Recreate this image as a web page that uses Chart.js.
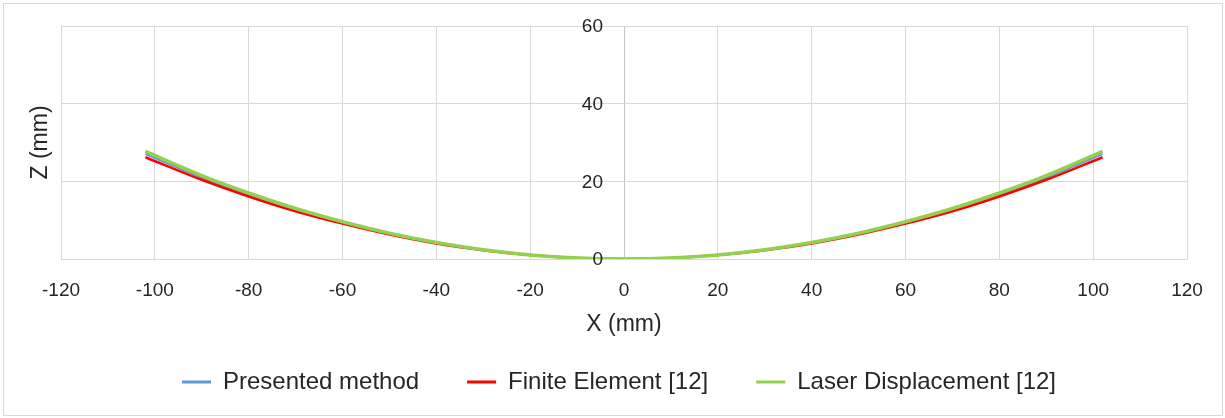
<!DOCTYPE html>
<html>
<head>
<meta charset="utf-8">
<script src="https://cdn.jsdelivr.net/npm/chart.js@4.4.1/dist/chart.umd.min.js"></script>
<style>
  html, body { margin: 0; padding: 0; background: #fff; }
  canvas { display: block; }
</style>
</head>
<body>
<canvas id="Chart" width="1225" height="418"></canvas>
<script>
  // values (mm)
  const xValues = [-102, -90, -80, -70, -60, -50, -40, -30, -20, -10, 0, 10, 20, 30, 40, 50, 60, 70, 80, 90, 102];
  const presented = [27.0, 21.0, 16.6, 12.7, 9.3, 6.5, 4.15, 2.33, 1.04, 0.26, 0, 0.26, 1.04, 2.33, 4.15, 6.5, 9.3, 12.7, 16.6, 21.0, 27.0];
  const finiteElement = [26.2, 20.4, 16.1, 12.3, 9.1, 6.3, 4.0, 2.27, 1.0, 0.25, 0, 0.25, 1.0, 2.27, 4.0, 6.3, 9.1, 12.3, 16.1, 20.4, 26.2];
  const laser = [27.7, 21.5, 17.0, 13.0, 9.6, 6.65, 4.25, 2.4, 1.06, 0.27, 0, 0.27, 1.06, 2.4, 4.25, 6.65, 9.6, 13.0, 17.0, 21.5, 27.7];
  const yTicks = [0, 20, 40, 60];

  const textColor = "#262626";
  const gridColor = "#d9d9d9";
  const fontFamily = "'Liberation Sans', Arial, sans-serif";

  function toPoints(ys) {
    return xValues.map((x, i) => ({ x: x, y: ys[i] }));
  }

  // outer frame of the chart
  const framePlugin = {
    id: "frame",
    beforeDraw(chart) {
      const c = chart.ctx;
      c.save();
      c.strokeStyle = gridColor;
      c.lineWidth = 1;
      c.strokeRect(3.5, 3.5, 1219, 412);
      c.restore();
    },
  };

  // legend centring counts the trailing padding, nudge it back
  const legendShift = {
    id: "legendShift",
    afterLayout(chart) {
      chart.legend.left += 24;
      chart.legend.right += 24;
    },
  };

  // y tick labels sit beside the x = 0 line
  const yLabelsPlugin = {
    id: "yLabels",
    afterDatasetsDraw(chart) {
      const c = chart.ctx;
      const xs = chart.scales.x;
      const ys = chart.scales.y;
      const x0 = xs.getPixelForValue(0);
      c.save();
      c.font = "19px " + fontFamily;
      c.fillStyle = textColor;
      c.textAlign = "right";
      c.textBaseline = "middle";
      yTicks.forEach((v) => {
        c.fillText(String(v), x0 - 21, ys.getPixelForValue(v) + 1);
      });
      c.restore();
    },
  };

  const ctx = document.getElementById("Chart").getContext("2d");

  new Chart(ctx, {
    type: "line",
    data: {
      datasets: [
        {
          label: "Presented method",
          data: toPoints(presented),
          borderColor: "#5b9bd5",
          backgroundColor: "#5b9bd5",
          borderWidth: 2,
          order: 3,
        },
        {
          label: "Finite Element [12]",
          data: toPoints(finiteElement),
          borderColor: "#ff0000",
          backgroundColor: "#ff0000",
          borderWidth: 2.5,
          order: 2,
        },
        {
          label: "Laser Displacement [12]",
          data: toPoints(laser),
          borderColor: "#92d050",
          backgroundColor: "#92d050",
          borderWidth: 3.5,
          order: 1,
        },
      ],
    },
    options: {
      responsive: false,
      animation: false,
      elements: {
        point: { radius: 0 },
        line: { cubicInterpolationMode: "monotone", fill: false },
      },
      layout: {
        padding: { left: 3, top: 26, right: 38, bottom: 14 },
      },
      plugins: {
        tooltip: { enabled: false },
        legend: {
          position: "bottom",
          labels: {
            font: { family: fontFamily, size: 24 },
            color: textColor,
            boxWidth: 29,
            boxHeight: 3,
            padding: 48,
            sort: (a, b) => a.datasetIndex - b.datasetIndex,
            generateLabels(chart) {
              const items = Chart.defaults.plugins.legend.labels.generateLabels(chart);
              items.forEach((it) => {
                it.lineWidth = 0;
                it.fillStyle = it.strokeStyle;
              });
              return items;
            },
          },
        },
      },
      scales: {
        x: {
          type: "linear",
          min: -120,
          max: 120,
          ticks: {
            stepSize: 20,
            padding: 20,
            color: textColor,
            font: { family: fontFamily, size: 19 },
          },
          grid: {
            color: (c) => (c.tick && c.tick.value === 0 ? "#c4c4c4" : gridColor),
            drawTicks: false,
          },
          border: { color: gridColor },
          title: {
            display: true,
            text: "X (mm)",
            color: textColor,
            font: { family: fontFamily, size: 23 },
            padding: { top: 0, bottom: -16 },
          },
          afterFit(scale) {
            scale.height = 63;
          },
        },
        y: {
          type: "linear",
          min: 0,
          max: 60,
          ticks: { stepSize: 20, display: false },
          grid: { color: gridColor, drawTicks: false },
          border: { color: gridColor },
          title: {
            display: true,
            text: "Z (mm)",
            color: textColor,
            font: { family: fontFamily, size: 23 },
            padding: { top: 24, bottom: 0 },
          },
          afterFit(scale) {
            scale.width = 58;
          },
        },
      },
    },
    plugins: [framePlugin, legendShift, yLabelsPlugin],
  });
</script>
</body>
</html>
